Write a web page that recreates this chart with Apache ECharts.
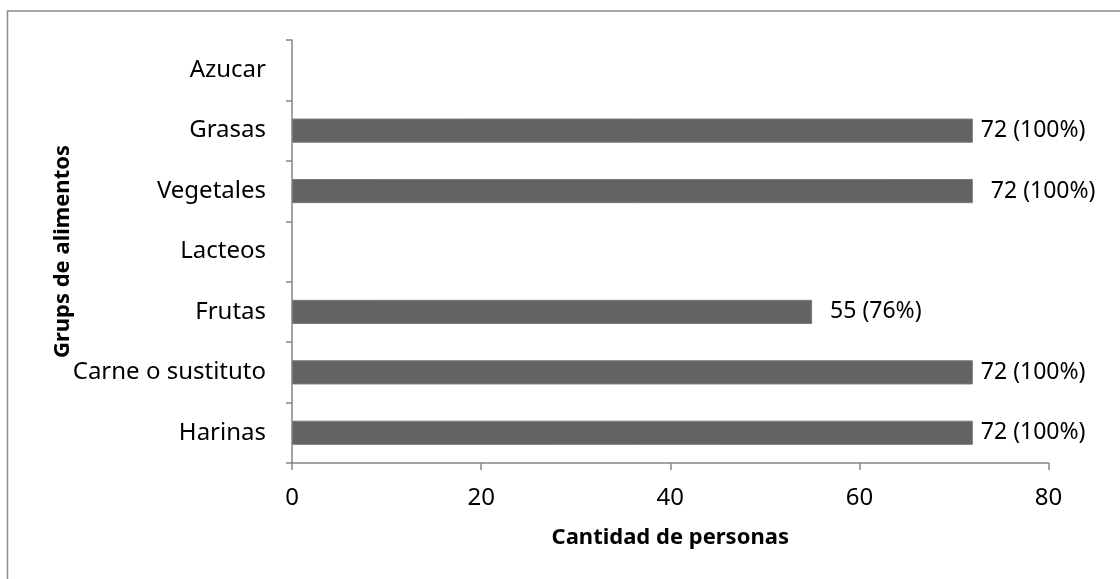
<!DOCTYPE html>
<html>
<head>
<meta charset="utf-8">
<script src="https://cdn.jsdelivr.net/npm/echarts@6/dist/echarts.min.js"></script>
<style>
html,body{margin:0;padding:0;background:#fff;}
#chart{width:1120px;height:579px;}
</style>
</head>
<body>
<div id="chart"></div>
<script>
// Categories listed bottom to top (as on the y axis)
var categories = ['Harinas', 'Carne o sustituto', 'Frutas', 'Lacteos', 'Vegetales', 'Grasas', 'Azucar'];
var counts = [72, 72, 55, null, 72, 72, null];
var percents = [100, 100, 76, null, 100, 100, null];
var xTicks = [0, 20, 40, 60, 80];

var FONT = '"Noto Sans", "Open Sans", sans-serif';
var AXIS = '#868686';

var seriesData = counts.map(function (v, i) {
  var item = { value: v == null ? '-' : v };
  if (categories[i] === 'Vegetales' || categories[i] === 'Frutas') item.label = { offset: [10, 0] };
  return item;
});

var chart = echarts.init(document.getElementById('chart'), null, { renderer: 'canvas' });
chart.setOption({
  animation: false,
  backgroundColor: '#ffffff',
  graphic: [{
    type: 'polyline',
    shape: { points: [[7.5, 600], [7.5, 11], [1130, 11]] },
    style: { stroke: '#8c8c8c', lineWidth: 1.5, fill: null },
    silent: true
  }],
  grid: { left: 292, top: 40, right: 71.5, bottom: 116, containLabel: false },
  xAxis: {
    type: 'value',
    min: xTicks[0],
    max: xTicks[xTicks.length - 1],
    interval: xTicks[1] - xTicks[0],
    name: 'Cantidad de personas',
    nameLocation: 'middle',
    nameGap: 64,
    nameMoveOverlap: false,
    nameTextStyle: { fontFamily: FONT, fontSize: 22, fontWeight: 'bold', color: '#000' },
    axisLine: { show: true, lineStyle: { color: AXIS, width: 1.5 } },
    axisTick: { show: true, length: 7, lineStyle: { color: AXIS, width: 1.5 } },
    axisLabel: { fontFamily: FONT, fontSize: 24, color: '#000', margin: 23 },
    splitLine: { show: false }
  },
  yAxis: {
    type: 'category',
    data: categories,
    name: 'Grups de alimentos',
    nameLocation: 'middle',
    nameGap: 218,
    nameRotate: 90,
    nameMoveOverlap: false,
    nameTextStyle: { fontFamily: FONT, fontSize: 22, fontWeight: 'bold', color: '#000' },
    axisLine: { show: true, lineStyle: { color: AXIS, width: 1.5 } },
    axisTick: { show: true, length: 6, lineStyle: { color: AXIS, width: 1.5 } },
    axisLabel: { fontFamily: FONT, fontSize: 24, color: '#000', margin: 26 },
    splitLine: { show: false }
  },
  series: [{
    type: 'bar',
    data: seriesData,
    barWidth: '40%',
    itemStyle: { color: '#636363', borderColor: '#7a7a7a', borderWidth: 1 },
    label: {
      show: true,
      position: 'right',
      distance: 8,
      fontFamily: FONT,
      fontSize: 23,
      color: '#000',
      formatter: function (p) {
        var i = p.dataIndex;
        if (counts[i] == null) return '';
        return counts[i] + ' (' + percents[i] + '%)';
      }
    }
  }]
});
</script>
</body>
</html>
